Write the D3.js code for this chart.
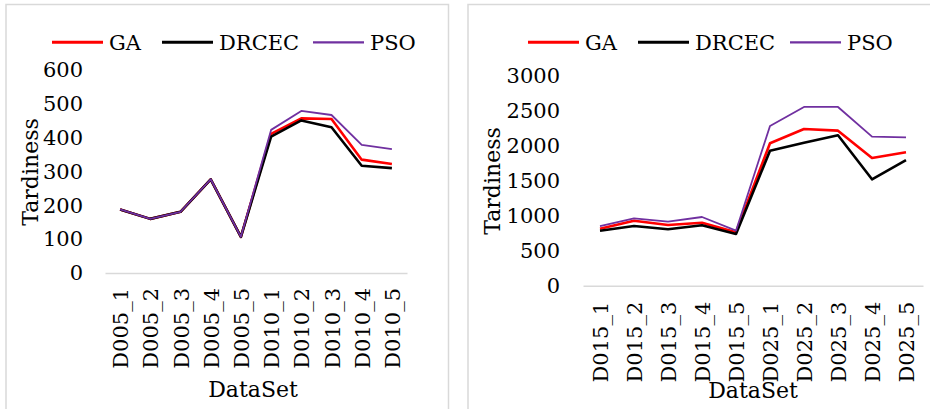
<!DOCTYPE html>
<html>
<head>
<meta charset="utf-8">
<script src="https://cdn.jsdelivr.net/npm/d3@7"></script>
<style>
  body { margin: 0; background: #fff; }
  svg text { font-family: "DejaVu Serif", serif; fill: #000; }
</style>
</head>
<body>
<svg id="chart" width="930" height="409"></svg>
<script>
// left chart data
const catsLeft = ["D005_1", "D005_2", "D005_3", "D005_4", "D005_5", "D010_1", "D010_2", "D010_3", "D010_4", "D010_5"]
const gaLeft = [188, 160, 181, 277, 107, 411, 457, 455, 335, 322]
const drcecLeft = [188, 160, 181, 277, 107, 403, 451, 431, 317, 310]
const psoLeft = [188, 160, 181, 277, 107, 423, 479, 467, 379, 366]
const ticksLeft = [0, 100, 200, 300, 400, 500, 600]

// right chart data
const catsRight = ["D015_1", "D015_2", "D015_3", "D015_4", "D015_5", "D025_1", "D025_2", "D025_3", "D025_4", "D025_5"]
const gaRight = [815, 930, 868, 901, 764, 2037, 2242, 2218, 1827, 1908]
const drcecRight = [787, 854, 807, 864, 740, 1931, 2046, 2152, 1522, 1798]
const psoRight = [854, 964, 916, 983, 787, 2285, 2557, 2557, 2132, 2123]
const ticksRight = [0, 500, 1000, 1500, 2000, 2500, 3000]

const seriesNames = ["GA", "DRCEC", "PSO"]
const seriesColors = ["#ff0000", "#000000", "#7030a0"]
const seriesWidths = [2.6, 2.6, 1.8]

const svg = d3.select("#chart")

function drawPanel(p) {
  const g = svg.append("g")

  // panel frame
  g.append("rect")
    .attr("x", p.frame[0]).attr("y", 4.5)
    .attr("width", p.frame[1] - p.frame[0]).attr("height", 420)
    .attr("fill", "none").attr("stroke", "#d9d9d9").attr("stroke-width", 1.5)

  const x = d3.scalePoint().domain(p.cats).range([p.x0, p.x1]).padding(0.5)
  const y = d3.scaleLinear().domain([0, p.ticks[p.ticks.length - 1]]).range([p.y0, p.y1])

  // x axis (baseline + rotated labels)
  const xa = g.append("g")
    .attr("transform", `translate(0,${p.y0})`)
    .call(d3.axisBottom(x).tickSize(0).tickSizeOuter(0))
  xa.select(".domain").attr("stroke", "#d9d9d9").attr("stroke-width", 1.5)
  xa.selectAll("text")
    .attr("font-size", 21)
    .attr("text-anchor", "end")
    .attr("transform", "rotate(-90)")
    .attr("x", -p.labelGap)
    .attr("y", 0)
    .attr("dy", "0.36em")

  // y axis
  const ya = g.append("g")
    .attr("transform", `translate(${p.tickX},0)`)
    .call(d3.axisLeft(y).tickValues(p.ticks).tickFormat(d3.format("d")).tickSize(0).tickPadding(0))
  ya.select(".domain").remove()
  ya.selectAll("text").attr("font-size", 21)

  // lines
  const line = d3.line().x((d, i) => x(p.cats[i])).y(d => y(d))
  p.series.forEach((vals, i) => {
    g.append("path")
      .datum(vals)
      .attr("fill", "none")
      .attr("stroke", seriesColors[i])
      .attr("stroke-width", seriesWidths[i])
      .attr("stroke-linejoin", "round")
      .attr("d", line)
  })

  // axis titles
  g.append("text")
    .attr("transform", `translate(${p.yTitle[0]},${p.yTitle[1]}) rotate(-90)`)
    .attr("text-anchor", "middle")
    .attr("font-size", 22)
    .text("Tardiness")
  g.append("text")
    .attr("x", p.xTitle[0]).attr("y", p.xTitle[1])
    .attr("text-anchor", "middle")
    .attr("font-size", 22)
    .text("DataSet")

  // legend
  seriesNames.forEach((name, i) => {
    const lx = p.legend[i]
    g.append("line")
      .attr("x1", lx).attr("x2", lx + 51)
      .attr("y1", 42.3).attr("y2", 42.3)
      .attr("stroke", seriesColors[i])
      .attr("stroke-width", seriesWidths[i] + 0.4)
    g.append("text")
      .attr("x", lx + 57).attr("y", 50)
      .attr("font-size", 21)
      .text(name)
  })
}

drawPanel({
  frame: [6, 448.5],
  cats: catsLeft, series: [gaLeft, drcecLeft, psoLeft], ticks: ticksLeft,
  x0: 105, x1: 407, y0: 273, y1: 70,
  tickX: 83, labelGap: 15,
  yTitle: [38, 172], xTitle: [253, 397],
  legend: [52, 162, 313]
})

drawPanel({
  frame: [468, 940],
  cats: catsRight, series: [gaRight, drcecRight, psoRight], ticks: ticksRight,
  x0: 583, x1: 923, y0: 285.7, y1: 76,
  tickX: 560, labelGap: 16,
  yTitle: [500, 181], xTitle: [753, 398],
  legend: [528, 638, 790]
})
</script>
</body>
</html>
